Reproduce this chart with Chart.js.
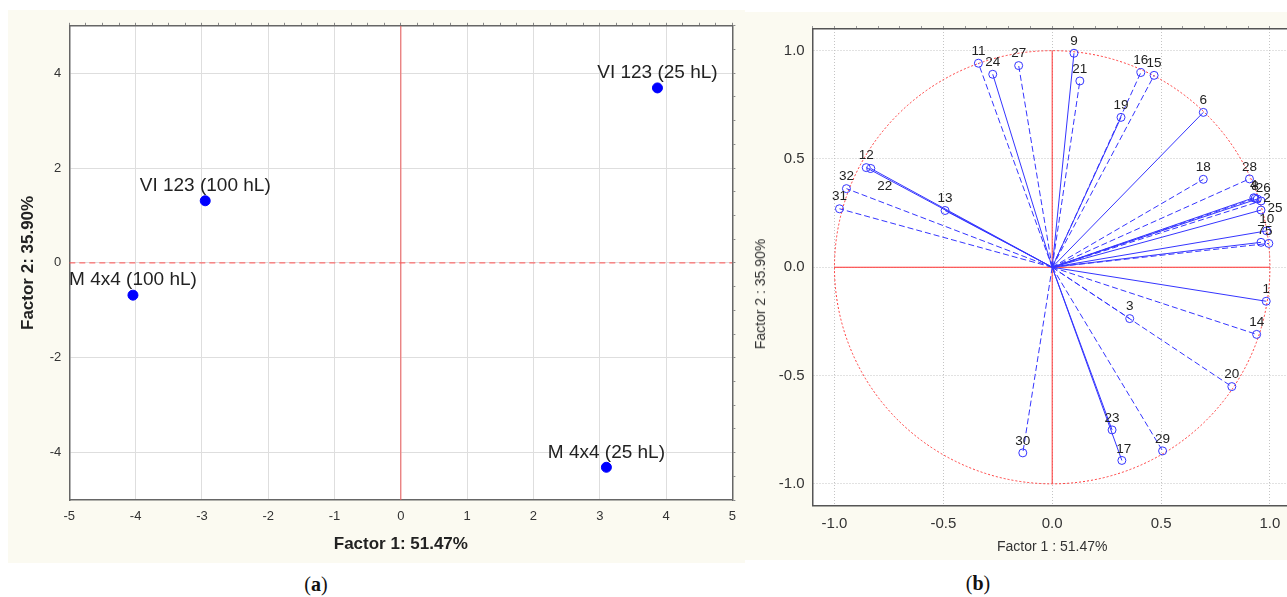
<!DOCTYPE html>
<html>
<head>
<meta charset="utf-8">
<script src="https://cdn.jsdelivr.net/npm/chart.js@4.4.0/dist/chart.umd.min.js"></script>
<style>
  body { margin: 0; width: 1287px; height: 597px; overflow: hidden; position: relative; background: #fff; }
  canvas { position: absolute; background: #fbfaf1; }
  .cap { position: absolute; transform: translate(-50%, -50%); font-family: "Liberation Serif", "DejaVu Serif", serif; font-size: 20px; color: #111; }
  .ytitle { position: absolute; transform: translate(-50%, -50%) rotate(-90deg); font-family: "Liberation Sans", Arial, sans-serif; font-size: 14px; color: #333; white-space: nowrap; }
</style>
</head>
<body>
<canvas id="chartA" width="737" height="553" style="left:8px;top:10px"></canvas>
<canvas id="chartB" width="555" height="548" style="left:745px;top:12px"></canvas>
<div class="ytitle" style="left:760px;top:294px">Factor 2 : 35.90%</div>
<div class="cap" style="left:316px;top:584px">(<b>a</b>)</div>
<div class="cap" style="left:978px;top:583px">(<b>b</b>)</div>
<script>
// (a) scores of the samples
const sampleNames = ['VI 123 (25 hL)', 'VI 123 (100 hL)', 'M 4x4 (100 hL)', 'M 4x4 (25 hL)'];
const factor1Scores = [3.87, -2.95, -4.04, 3.10];
const factor2Scores = [3.69, 1.31, -0.68, -4.31];
const scoreTicksX = [-5, -4, -3, -2, -1, 0, 1, 2, 3, 4, 5];
const scoreTicksY = [-4, -2, 0, 2, 4];

// (b) loadings of the variables
const varNames = ['1', '2', '3', '4', '5', '6', '7', '8', '9', '10', '11', '12', '13', '14', '15', '16',
  '17', '18', '19', '20', '21', '22', '23', '24', '25', '26', '27', '28', '29', '30', '31', '32'];
const loading1 = [0.983, 0.959, 0.356, 0.926, 0.995, 0.694, 0.959, 0.932, 0.100, 0.985, -0.339, -0.854, -0.492, 0.939, 0.468, 0.407,
  0.320, 0.694, 0.316, 0.825, 0.127, -0.833, 0.275, -0.273, 0.959, 0.942, -0.154, 0.906, 0.507, -0.135, -0.977, -0.945];
const loading2 = [-0.157, 0.306, -0.237, 0.321, 0.110, 0.715, 0.115, 0.318, 0.988, 0.168, 0.942, 0.460, 0.262, -0.310, 0.886, 0.899,
  -0.892, 0.406, 0.692, -0.551, 0.860, 0.456, -0.751, 0.891, 0.264, 0.315, 0.931, 0.408, -0.848, -0.857, 0.270, 0.363];
const lineKind = ['solid', 'dashed', 'dashed', 'solid', 'dashed', 'solid', 'solid', 'dashed', 'solid', 'solid', 'dashed', 'solid', 'solid', 'dashed', 'dashed', 'dashed',
  'solid', 'dashed', 'solid', 'dashed', 'dashed', 'solid', 'solid', 'solid', 'solid', 'solid', 'dashed', 'dashed', 'dashed', 'dashed', 'dashed', 'dashed'];
const loadingTicks = [-1, -0.5, 0, 0.5, 1];

Chart.defaults.font.family = '"Liberation Sans", Arial, sans-serif';
Chart.defaults.color = '#333';

// white plotting area over the cream background
const plotBg = {
  id: 'plotBg',
  beforeDraw(chart) {
    const { ctx, chartArea: a } = chart;
    ctx.save();
    ctx.fillStyle = '#fff';
    ctx.fillRect(a.left, a.top, a.width, a.height);
    ctx.restore();
  }
};

// text next to the last point of each dataset
const pointLabels = {
  id: 'pointLabels',
  afterDatasetsDraw(chart, args, opts) {
    const ctx = chart.ctx;
    ctx.save();
    ctx.font = opts.font;
    ctx.fillStyle = opts.color;
    ctx.textAlign = 'center';
    ctx.textBaseline = 'middle';
    chart.data.datasets.forEach((ds, i) => {
      if (!ds.labels) return;
      chart.getDatasetMeta(i).data.forEach((el, j) => {
        const txt = ds.labels[j];
        if (!txt) return;
        const off = (opts.nudge && opts.nudge[txt]) || opts.offset;
        ctx.fillText(txt, el.x + off[0], el.y + off[1]);
      });
    });
    ctx.restore();
  }
};

// unit circle of the loadings plot, through the scales
const unitCircle = {
  id: 'unitCircle',
  beforeDatasetsDraw(chart) {
    const { ctx, scales: { x, y } } = chart;
    const cx = x.getPixelForValue(0), cy = y.getPixelForValue(0);
    ctx.save();
    ctx.strokeStyle = '#ff3c3c';
    ctx.lineWidth = 1;
    ctx.setLineDash([2, 2]);
    ctx.beginPath();
    ctx.ellipse(cx, cy, x.getPixelForValue(1) - cx, cy - y.getPixelForValue(1), 0, 0, Math.PI * 2);
    ctx.stroke();
    ctx.restore();
  }
};

function fixedTicks(list) {
  return scale => { scale.ticks = list.map(v => ({ value: v })); };
}

// ---------- (a) ----------
new Chart(document.getElementById('chartA'), {
  type: 'scatter',
  data: {
    datasets: [
      {
        data: factor1Scores.map((v, i) => ({ x: v, y: factor2Scores[i] })),
        labels: sampleNames,
        backgroundColor: '#0000ff',
        borderColor: '#0000ff',
        pointRadius: 5,
        order: -1
      },
      {
        data: [{ x: -5, y: 0 }, { x: 5, y: 0 }],
        showLine: true, borderColor: '#ff5050', borderWidth: 1, borderDash: [6, 4], pointRadius: 0, order: 2
      },
      {
        data: [{ x: 0, y: -5 }, { x: 0, y: 5 }],
        showLine: true, borderColor: '#ee5a5a', borderWidth: 1, pointRadius: 0, order: 2
      }
    ]
  },
  options: {
    responsive: false,
    animation: false,
    layout: { padding: { left: 0, top: 15, right: 9.7, bottom: 0 } },
    plugins: {
      legend: { display: false },
      tooltip: { enabled: false },
      pointLabels: { font: '19px "Liberation Sans", Arial, sans-serif', color: '#222', offset: [0, -15] }
    },
    scales: {
      x: {
        type: 'linear', min: -5, max: 5,
        afterBuildTicks: fixedTicks(scoreTicksX),
        afterFit: s => { s.height = 63; },
        grid: { color: '#dedede', drawTicks: false },
        border: { color: '#666', width: 1.5 },
        ticks: { padding: 9, font: { size: 13 }, color: '#333' },
        title: { display: true, text: 'Factor 1: 51.47%', color: '#222', font: { size: 17, weight: 'bold' }, padding: { top: 0, bottom: 8 } }
      },
      y: {
        type: 'linear', min: -5, max: 5,
        afterBuildTicks: fixedTicks(scoreTicksY),
        afterFit: s => { s.width = 61.3; },
        grid: { color: '#dedede', drawTicks: false },
        border: { color: '#666', width: 1.5 },
        ticks: { padding: 8, font: { size: 13 }, color: '#333' },
        title: { display: true, text: 'Factor 2: 35.90%', color: '#222', font: { size: 17, weight: 'bold' }, padding: { top: 10, bottom: 0 } }
      },
      x2: {
        type: 'linear', position: 'top', min: -5, max: 5,
        afterFit: s => { s.height = 0; },
        ticks: { display: false, stepSize: 0.25, autoSkip: false, maxTicksLimit: 100 },
        grid: { drawOnChartArea: false, tickLength: 3, color: '#888' },
        border: { color: '#666', width: 1.5 }
      },
      y2: {
        type: 'linear', position: 'right', min: -5, max: 5,
        afterFit: s => { s.width = 0; },
        ticks: { display: false, stepSize: 0.5, autoSkip: false, maxTicksLimit: 100 },
        grid: { drawOnChartArea: false, tickLength: 3, color: '#888' },
        border: { color: '#666', width: 1.5 }
      }
    }
  },
  plugins: [plotBg, pointLabels]
});

// ---------- (b) ----------
const vectorSets = varNames.map((name, i) => ({
  data: [{ x: 0, y: 0 }, { x: loading1[i], y: loading2[i] }],
  labels: ['', name],
  showLine: true,
  borderColor: '#3535ff',
  borderWidth: 1,
  borderDash: lineKind[i] === 'dashed' ? [6, 3] : [],
  pointRadius: ctx => (ctx.dataIndex === 1 ? 4 : 0),
  pointBorderWidth: 1,
  pointBorderColor: '#3535ff',
  pointBackgroundColor: 'rgba(0,0,0,0)'
}));

new Chart(document.getElementById('chartB'), {
  type: 'scatter',
  data: {
    datasets: [
      { data: [{ x: -1, y: 0 }, { x: 1, y: 0 }], showLine: true, borderColor: '#ff3030', borderWidth: 1, pointRadius: 0, order: 2 },
      { data: [{ x: 0, y: -1 }, { x: 0, y: 1 }], showLine: true, borderColor: '#ff3030', borderWidth: 1, pointRadius: 0, order: 2 },
      ...vectorSets
    ]
  },
  options: {
    responsive: false,
    animation: false,
    layout: { padding: { left: 0, top: 14, right: 8.3, bottom: 0 } },
    plugins: {
      legend: { display: false },
      tooltip: { enabled: false },
      pointLabels: {
        font: '13.5px "Liberation Sans", Arial, sans-serif', color: '#222', offset: [0, -12],
        nudge: { '22': [14, 18], '25': [14, -2], '26': [6, -11], '2': [6, -3], '17': [2, -11] }
      }
    },
    scales: {
      x: {
        type: 'linear', min: -1.1, max: 1.1,
        afterBuildTicks: fixedTicks(loadingTicks),
        afterFit: s => { s.height = 54.5; },
        grid: { color: '#c4c4c4', drawTicks: false },
        border: { color: '#555', width: 1.5, dash: [1, 2] },
        ticks: { padding: 9, font: { size: 15 }, color: '#333', callback: v => v.toFixed(1) },
        title: { display: true, text: 'Factor 1 : 51.47%', color: '#333', font: { size: 14 }, padding: { top: 0, bottom: 4.6 } }
      },
      y: {
        type: 'linear', min: -1.1, max: 1.1,
        afterBuildTicks: fixedTicks(loadingTicks),
        afterFit: s => { s.width = 67.7; },
        grid: { color: '#c4c4c4', drawTicks: false },
        border: { color: '#555', width: 1.5, dash: [1, 2] },
        ticks: { padding: 8, font: { size: 15 }, color: '#333', callback: v => v.toFixed(1) }
      },
      x2: {
        type: 'linear', position: 'top', min: -1.1, max: 1.1,
        afterFit: s => { s.height = 0; },
        ticks: { display: false, stepSize: 0.1, autoSkip: false, maxTicksLimit: 100 },
        grid: { drawOnChartArea: false, tickLength: 3, color: '#999' },
        border: { color: '#555', width: 1.5 }
      },
      y2: {
        type: 'linear', position: 'right', min: -1.1, max: 1.1,
        afterFit: s => { s.width = 0; },
        ticks: { display: false },
        grid: { drawOnChartArea: false, drawTicks: false },
        border: { color: '#555', width: 1.5 }
      }
    }
  },
  plugins: [plotBg, unitCircle, pointLabels]
});
</script>
</body>
</html>
